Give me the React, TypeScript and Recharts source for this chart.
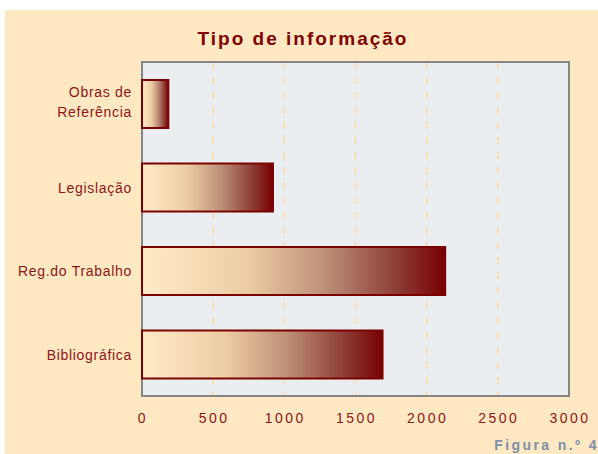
import { BarChart, Bar, XAxis, YAxis, CartesianGrid, ReferenceArea } from 'recharts'

const categories = ['Obras de\nReferência', 'Legislação', 'Reg.do Trabalho', 'Bibliográfica']
const counts = [185, 920, 2130, 1690]
const xTicks = [0, 500, 1000, 1500, 2000, 2500, 3000]

const data = categories.map((name, i) => ({ name, value: counts[i] }))

const FONT = '"Liberation Sans", Arial, sans-serif'
const RED = '#8E1616'

function CategoryTick(props: any) {
  const { x, y, payload } = props
  const lines = String(payload.value).split('\n')
  const n = lines.length
  return (
    <text textAnchor="end" fill={RED} fontSize={14} fontFamily={FONT} letterSpacing={0.7}>
      {lines.map((line, i) => (
        <tspan key={i} x={x - 2} y={y + 5.5 + (i - (n - 1) / 2) * 20 - (n > 1 ? 2.5 : 0)}>
          {line}
        </tspan>
      ))}
    </text>
  )
}

function ValueTick(props: any) {
  const { x, y, payload } = props
  return (
    <text x={x + 1} y={y + 27} textAnchor="middle" fill={RED} fontSize={14} fontFamily={FONT} letterSpacing={2.5}>
      {payload.value}
    </text>
  )
}

export default function App() {
  return (
    <div style={{ position: 'absolute', left: 0, top: 0, width: 598, height: 454 }}>
      <div style={{ position: 'absolute', left: 5, top: 10, right: 0, bottom: 0, background: '#FFE8C2' }} />
      <div style={{ position: 'absolute', left: 0, top: 0 }}>
        <BarChart
          width={598}
          height={454}
          data={data}
          layout="vertical"
          margin={{ top: 62, right: 29, bottom: 28, left: 12 }}
        >
          <defs>
            <linearGradient id="barGrad" x1="0" y1="0" x2="1" y2="0">
              <stop offset="0%" stopColor="#FFEBC8" />
              <stop offset="35%" stopColor="#ECCCA4" />
              <stop offset="60%" stopColor="#BE9178" />
              <stop offset="85%" stopColor="#8C3A34" />
              <stop offset="100%" stopColor="#780000" />
            </linearGradient>
          </defs>
          <CartesianGrid
            horizontal={false}
            stroke="#FFD9A0"
            strokeWidth={1.5}
            strokeDasharray="7 8"
            fill="#EBEEF1"
            fillOpacity={1}
          />
          <XAxis
            type="number"
            domain={[0, 3000]}
            ticks={xTicks}
            axisLine={false}
            tickLine={false}
            tickSize={0}
            tickMargin={0}
            height={30}
            tick={<ValueTick />}
            interval={0}
          />
          <YAxis
            type="category"
            dataKey="name"
            width={130}
            axisLine={false}
            tickLine={false}
            tick={<CategoryTick />}
            interval={0}
          />
          <ReferenceArea x1={0} x2={3000} fill="none" stroke="#858585" strokeWidth={2} ifOverflow="visible" />
          <Bar
            dataKey="value"
            barSize={48}
            fill="url(#barGrad)"
            stroke="#7A0000"
            strokeWidth={2}
            isAnimationActive={false}
          />
        </BarChart>
      </div>
      <svg width={598} height={454} style={{ position: 'absolute', left: 0, top: 0, pointerEvents: 'none' }}>
        <text x={303} y={45} textAnchor="middle" fill="#800000" fontSize={19} fontWeight="bold" fontFamily={FONT} letterSpacing={2}>
          Tipo de informação
        </text>
        <text x={599} y={450} textAnchor="end" fill="#7E8FA8" fontSize={14} fontWeight="bold" fontFamily={FONT} letterSpacing={2.4}>
          Figura n.º 4
        </text>
      </svg>
    </div>
  )
}
